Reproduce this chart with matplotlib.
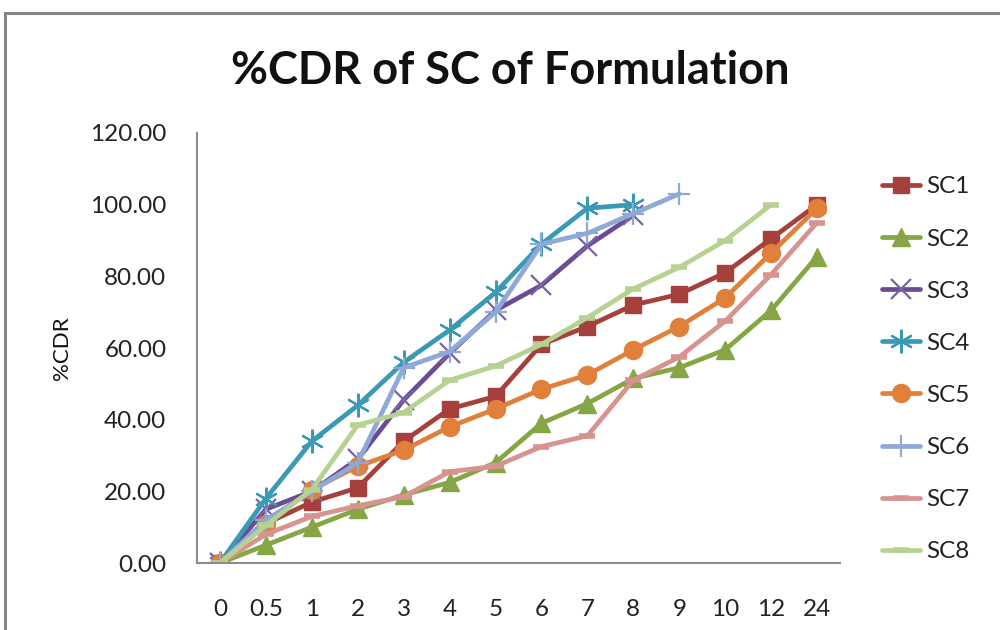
import numpy as np
import matplotlib
matplotlib.use('Agg')
import matplotlib.pyplot as plt
from matplotlib.patches import Rectangle

plt.rcParams['font.family'] = ['Lato', 'DejaVu Sans']

# Time points (h) and cumulative drug release (%) per formulation
tiempos = ['0', '0.5', '1', '2', '3', '4', '5', '6', '7', '8', '9', '10', '12', '24']
sc1 = [0, 11, 17, 21, 34, 43, 46.5, 61, 66, 72, 75, 81, 90.5, 100]
sc2 = [0, 5, 10, 15, 19, 22.5, 28, 39, 44.5, 51.5, 54.5, 59.5, 70.5, 85.5]
sc3 = [0, 15, 20, 29, 45.5, 58.5, 70.5, 77.5, 88.5, 97]
sc4 = [0, 18, 34, 44, 56, 65, 75.5, 89, 99, 100]
sc5 = [0, 11, 20.5, 27, 31.5, 38, 43, 48.5, 52.5, 59.5, 66, 74, 86.5, 99]
sc6 = [0, 12, 20, 28, 54.5, 59, 70, 89, 92, 97.5, 103]
sc7 = [0, 8, 13, 16, 18.5, 25.5, 27, 32.5, 35.5, 51, 57.5, 67.5, 80.5, 95]
sc8 = [0, 10.5, 20.5, 38.5, 42, 51, 55, 61, 68.5, 76.5, 82.5, 90, 100]

series = [
    ('SC1', sc1, '#A6403C', dict(marker='s', ms=12)),
    ('SC2', sc2, '#86A646', dict(marker='^', ms=13)),
    ('SC3', sc3, '#6B4C93', dict(marker='x', ms=15, mew=1.6, mec='#7A62A8')),
    ('SC4', sc4, '#3A9AB5', dict(marker=(6, 2, 0), ms=17, mew=1.6)),
    ('SC5', sc5, '#E0803A', dict(marker='o', ms=13)),
    ('SC6', sc6, '#8EA8D8', dict(marker='+', ms=16, mew=1.6)),
    ('SC7', sc7, '#D69390', dict(marker='_', ms=11, mew=4)),
    ('SC8', sc8, '#B6D292', dict(marker='_', ms=11, mew=4)),
]

fig = plt.figure(figsize=(10, 6.3), dpi=100)
ax = fig.add_axes([0.197, 0.1063, 0.643, 0.6826])

x = np.arange(len(tiempos))
for nombre, valores, color, estilo in series:
    ax.plot(x[:len(valores)], valores, color=color, lw=3.4, label=nombre,
            solid_capstyle='round', **estilo)

ax.set_xlim(-0.5, len(tiempos) - 0.5)
ax.set_ylim(0, 120)
ax.set_xticks(x)
ax.set_xticklabels(tiempos)
ax.set_yticks(np.arange(0, 121, 20))
ax.set_yticklabels([f'{v:.2f}' for v in np.arange(0, 121, 20)])
ax.tick_params(length=0, labelsize=17.5, colors='#222222')
ax.tick_params(axis='x', pad=26)
ax.tick_params(axis='y', pad=22)

for lado in ['top', 'right']:
    ax.spines[lado].set_visible(False)
for lado in ['left', 'bottom']:
    ax.spines[lado].set_color('#8c8c8c')
    ax.spines[lado].set_linewidth(1.5)

fig.text(0.062, 0.447, '%CDR', rotation=90, ha='center', va='center',
         fontsize=16, color='#111111')
fig.text(0.51, 0.888, '%CDR of SC of Formulation', ha='center', va='center',
         fontsize=32.5, fontweight='bold', color='#111111')

leg = fig.legend(loc='upper left', bbox_to_anchor=(0.882, 0.72),
                 frameon=False, fontsize=17.5, borderpad=0, borderaxespad=0,
                 handlelength=1.55, handletextpad=0.25, labelspacing=1.28)
for texto in leg.get_texts():
    texto.set_color('#222222')

# marco del gráfico
fig.add_artist(Rectangle((0.005, -0.1), 1.2, 1.0794, transform=fig.transFigure,
                         fill=False, edgecolor='#858585', lw=2.2, clip_on=False))

plt.savefig('out.png', dpi=100)
plt.close()
